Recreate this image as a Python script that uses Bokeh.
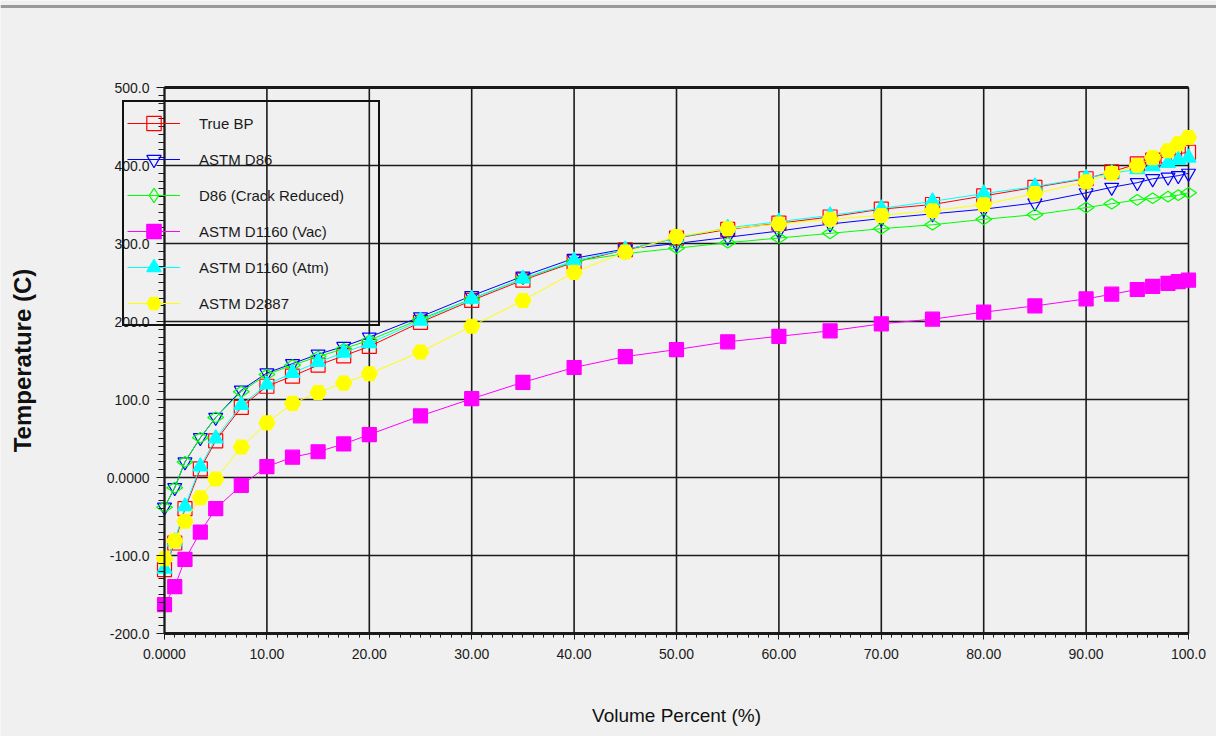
from bokeh.plotting import figure
from bokeh.models import Range1d, FixedTicker, Legend, LegendItem, Span
from bokeh.embed import file_html
from bokeh.resources import INLINE

vol = [0, 1, 2, 3.5, 5, 7.5, 10, 12.5, 15, 17.5, 20, 25, 30, 35, 40, 45, 50,
       55, 60, 65, 70, 75, 80, 85, 90, 92.5, 95, 96.5, 98, 99, 100]

true_bp = [-118, -84, -40, 11, 47, 90, 117, 130, 144, 156, 168, 199, 227, 253, 276, 292, 307,
           318, 326, 334, 344, 350, 361, 372, 383, 392, 402, 407, 412, 415, 417]
astm_d86 = [-38, -13, 20, 51, 77, 112, 134, 146, 158, 168, 180, 206, 233, 258, 281, 293, 300,
            308, 316, 325, 332, 338, 344, 352, 365, 372, 378, 383, 385, 387, 390]
d86_crack = [-38, -13, 20, 51, 77, 110, 132, 144, 155, 165, 176, 203, 229, 255, 277, 287, 294,
             301, 307, 313, 319, 324, 331, 337, 346, 351, 356, 358, 360, 362, 365]
d1160_vac = [-163, -140, -105, -70, -40, -10, 14, 26, 33, 43, 55, 79, 101, 122, 141, 155, 164,
             174, 181, 188, 197, 203, 212, 220, 229, 235, 241, 245, 249, 251, 253]
d1160_atm = [-117, -82, -37, 14, 50, 93, 119, 134, 148, 160, 172, 201, 229, 255, 278, 292, 307,
             320, 328, 336, 345, 354, 364, 373, 384, 390, 395, 399, 403, 407, 410]
d2887 = [-104, -81, -56, -26, -2, 39, 70, 95, 109, 121, 133, 161, 194, 227, 263, 289, 309,
         319, 325, 331, 336, 342, 350, 364, 379, 390, 400, 410, 419, 428, 436]

series_names = ["True BP", "ASTM D86", "D86 (Crack Reduced)", "ASTM D1160 (Vac)",
                "ASTM D1160 (Atm)", "ASTM D2887"]

x_ticks = [0, 10, 20, 30, 40, 50, 60, 70, 80, 90, 100]
x_tick_labels = ["0.0000", "10.00", "20.00", "30.00", "40.00", "50.00", "60.00",
                 "70.00", "80.00", "90.00", "100.0"]
y_ticks = [-200, -100, 0, 100, 200, 300, 400, 500]
y_tick_labels = ["-200.0", "-100.0", "0.0000", "100.0", "200.0", "300.0", "400.0", "500.0"]

BG = "#f0f0f0"
FONT = "Liberation Sans"
INK = "#1a1a1a"

x_lo, x_hi = x_ticks[0], x_ticks[-1]
y_lo, y_hi = y_ticks[0], y_ticks[-1]

# The frame covers the whole page; both axes are pinned at the data origin
# (x=0, y=-200) so that labels, titles and the overhanging legend are never clipped.
p = figure(width=1216, height=736, output_backend="svg", toolbar_location=None,
           x_range=Range1d(-16.016, 102.734), y_range=Range1d(-332.05, 611.54),
           min_border_left=0, min_border_right=0, min_border_top=0, min_border_bottom=0,
           background_fill_color=BG, border_fill_color=BG)
p.outline_line_color = None
p.xgrid.visible = False
p.ygrid.visible = False

# window frame line along the very top of the picture
p.add_layout(Span(location=604.0, dimension="width", line_color="#9a9a9a", line_width=3,
                  level="underlay"))

# grid lines limited to the data box
nx, ny = len(x_ticks), len(y_ticks)
p.segment(x0=x_ticks, y0=[y_lo] * nx, x1=x_ticks, y1=[y_hi] * nx,
          line_color=INK, line_width=1.6, level="underlay")
p.segment(x0=[x_lo] * ny, y0=y_ticks, x1=[x_hi] * ny, y1=y_ticks,
          line_color=INK, line_width=1.6, level="underlay")
# heavier top border
p.segment(x0=[x_lo], y0=[y_hi], x1=[x_hi], y1=[y_hi],
          line_color=INK, line_width=3, level="underlay")

xt = FixedTicker(ticks=x_ticks, minor_ticks=list(range(0, 101, 1)))
yt = FixedTicker(ticks=y_ticks, minor_ticks=list(range(-200, 501, 10)))
p.xaxis.ticker = xt
p.yaxis.ticker = yt
p.xaxis.major_label_overrides = dict(zip(x_ticks, x_tick_labels))
p.yaxis.major_label_overrides = dict(zip(y_ticks, y_tick_labels))
p.xaxis.bounds = (x_lo, x_hi)
p.yaxis.bounds = (y_lo, y_hi)
p.xaxis.fixed_location = y_lo
p.yaxis.fixed_location = x_lo

for ax in (p.xaxis, p.yaxis):
    ax.axis_line_color = INK
    ax.major_tick_line_color = INK
    ax.minor_tick_line_color = INK
    ax.major_tick_in = 0
    ax.minor_tick_in = 0
    ax.major_label_text_font = FONT
    ax.major_label_text_font_size = "14px"
    ax.major_label_text_color = INK

p.xaxis.major_label_standoff = 9
p.yaxis.major_label_standoff = 7
p.xaxis.axis_line_width = 3
p.yaxis.axis_line_width = 2
p.xaxis.major_tick_out = 6
p.xaxis.minor_tick_out = 4
p.yaxis.major_tick_out = 8
p.yaxis.minor_tick_out = 6

p.xaxis.axis_label = "Volume Percent (%)"
p.xaxis.axis_label_text_font = FONT
p.xaxis.axis_label_text_font_size = "19px"
p.xaxis.axis_label_text_font_style = "normal"
p.xaxis.axis_label_text_color = "#111111"
p.xaxis.axis_label_standoff = 43

p.yaxis.axis_label = "Temperature (C)"
p.yaxis.axis_label_text_font = FONT
p.yaxis.axis_label_text_font_size = "24px"
p.yaxis.axis_label_text_font_style = "bold"
p.yaxis.axis_label_text_color = "#111111"
p.yaxis.axis_label_standoff = 68

data = [true_bp, astm_d86, d86_crack, d1160_vac, d1160_atm, d2887]
colors = ["#ff0000", "#0000ff", "#00ff00", "#ff00ff", "#00ffff", "#ffff00"]
markers = ["square", "inverted_triangle", "diamond", "square", "triangle", "hex"]
filled = [False, False, False, True, True, True]
sizes = [14, 14, 16, 14, 15, 16]
angles = [0, 0, 1.5708, 0, 0, 0]

items = []
for name, ys, c, m, f, s, a in zip(series_names, data, colors, markers, filled, sizes, angles):
    l = p.line(vol, ys, line_color=c, line_width=1)
    sc = p.scatter(vol, ys, marker=m, size=s, angle=a, line_color=c, line_width=1.2,
                   fill_color=c if f else None, fill_alpha=1.0 if f else 0.0)
    items.append(LegendItem(label=name, renderers=[l, sc]))

legend = Legend(items=items, location=(122, 410), orientation="vertical",
                glyph_width=53, glyph_height=36, label_height=36, label_width=176,
                label_standoff=19, spacing=0, padding=3, margin=0,
                label_text_font=FONT, label_text_font_size="15px",
                label_text_color=INK,
                border_line_color="#111111", border_line_width=2, border_line_alpha=1.0,
                background_fill_alpha=0.0)
p.add_layout(legend)

open("out.html", "w").write(file_html(p, INLINE))
